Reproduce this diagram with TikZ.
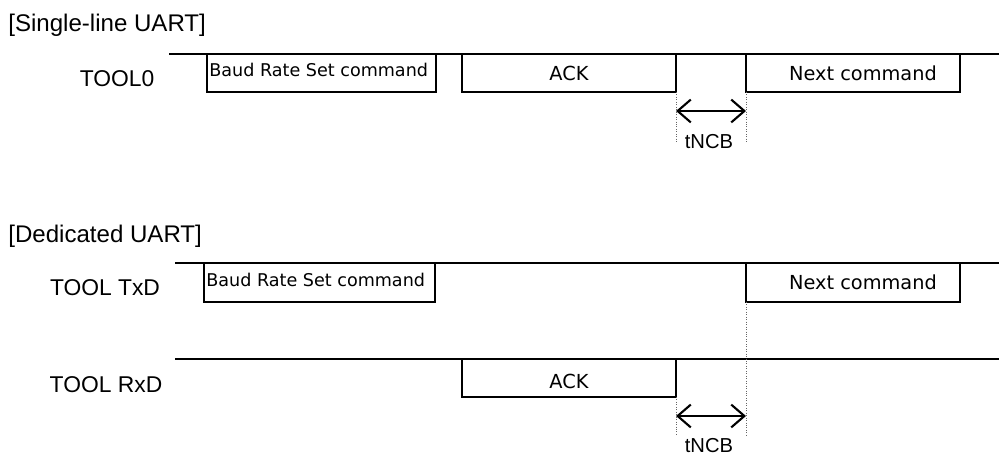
\documentclass[tikz,border=0pt]{standalone}
\usepackage{fontspec}
\setmainfont{Liberation Sans}
\newfontfamily\pktfont{DejaVu Sans}
\usetikzlibrary{arrows.meta}

\begin{document}
\begin{tikzpicture}[x=0.02cm, y=-0.02cm,
	sig/.style={line width=1pt},
	guide/.style={densely dotted, line width=0.4pt, black!60},
	gap/.style={{Straight Barb[length=7.5pt,width=13pt]}-{Straight Barb[length=7.5pt,width=13pt]}, line width=1.2pt},
	title/.style={font=\fontsize{13.7}{16}\selectfont, inner sep=0pt},
	lbl/.style={font=\fontsize{13}{15}\selectfont, inner sep=0pt},
	tlbl/.style={font=\fontsize{11.5}{13}\selectfont, inner sep=0pt},
	txt/.style={font=\pktfont\fontsize{11}{13}\selectfont, inner sep=0pt},
	small/.style={font=\pktfont\fontsize{10}{12}\selectfont, inner sep=0pt}]
	\useasboundingbox (0,0) rectangle (999,455);
	% titles and signal names
	\node[title, anchor=base west] (single) at (8,32) {[Single-line UART]};
	\node[title, anchor=base west] (dedic) at (8,243) {[Dedicated UART]};
	\node[lbl, anchor=base] (tool0) at (117,87) {TOOL0};
	\node[lbl, anchor=base] (txd) at (105,296) {TOOL TxD};
	\node[lbl, anchor=base] (rxd) at (106,392) {TOOL RxD};
	% single-line UART
	\draw[sig] (169,54) -- (999,54);
	\foreach \a/\b in {207/436, 462/676, 746/960}
	{
		\draw[sig] (\a,54) rectangle (\b,92);
	}
	\node[small, anchor=base west] (sBaud) at (209,77) {Baud Rate Set command};
	\node[txt, anchor=base] (sAckTxt) at (569,81) {ACK};
	\node[txt, anchor=base] (sNextTxt) at (863,81) {Next command};
	% tNCB (single-line)
	\coordinate (sAck) at (676,92);
	\coordinate (sAckEnd) at (676,143);
	\coordinate (sNext) at (746,92);
	\coordinate (sNextEnd) at (746,143);
	\coordinate (sL) at (676,111);
	\coordinate (sR) at (746,111);
	\draw[guide] (sAck) -- (sAckEnd);
	\draw[guide] (sNext) -- (sNextEnd);
	\draw[gap] (sL) -- (sR);
	\node[tlbl] (sNCB) at (709,142) {tNCB};
	% dedicated UART: TxD
	\draw[sig] (175,263) -- (999,263);
	\foreach \a/\b in {204/435, 746/960}
	{
		\draw[sig] (\a,263) rectangle (\b,302);
	}
	\node[small, anchor=base west] (dBaud) at (206,287) {Baud Rate Set command};
	\node[txt, anchor=base] (dNextTxt) at (863,290) {Next command};
	% dedicated UART: RxD
	\draw[sig] (175,359) -- (999,359);
	\draw[sig] (462,359) rectangle (676,397);
	\node[txt, anchor=base] (dAckTxt) at (569,388) {ACK};
	% tNCB (dedicated)
	\coordinate (dNext) at (746,302);
	\coordinate (dNextEnd) at (746,435);
	\coordinate (dAck) at (676,397);
	\coordinate (dAckEnd) at (676,435);
	\coordinate (dL) at (676,416);
	\coordinate (dR) at (746,416);
	\draw[guide] (dNext) -- (dNextEnd);
	\draw[guide] (dAck) -- (dAckEnd);
	\draw[gap] (dL) -- (dR);
	\node[tlbl] (dNCB) at (709,446) {tNCB};
\end{tikzpicture}
\end{document}
